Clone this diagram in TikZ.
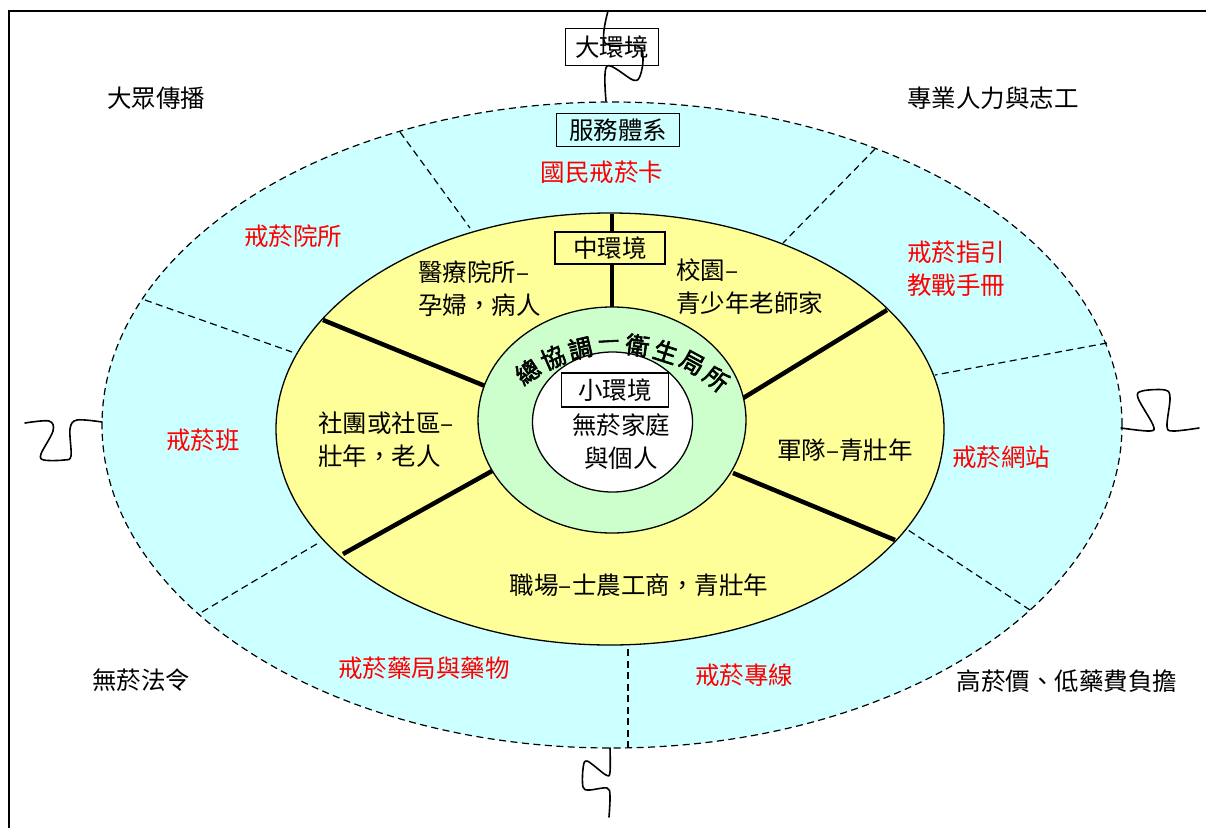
\documentclass[tikz,border=0pt]{standalone}
\usepackage{fontspec}
\newfontfamily\cjk{Noto Sans CJK TC}
\newfontfamily\cjkb[FakeBold=2.5]{Noto Sans CJK TC}
\definecolor{cyanfill}{HTML}{CCFFFF}
\definecolor{yelfill}{HTML}{FFFF99}
\definecolor{grnfill}{HTML}{CCFFCC}
\definecolor{redtxt}{HTML}{FF0000}
\begin{document}
\begin{tikzpicture}[x=1pt,y=-1pt,
  txt/.style={font=\cjk\fontsize{24.5}{33}\selectfont, inner sep=0pt, align=center},
  lefttxt/.style={txt, align=left, anchor=west},
  redlbl/.style={txt, text=redtxt},
  envbox/.style={txt, draw, line width=1.3pt},
  arcchar/.style={font=\cjkb\fontsize{24}{24}\selectfont, inner sep=0pt},
  dashdiv/.style={dash pattern=on 7pt off 4.5pt, line width=1.2pt},
  thickdiv/.style={line width=4.5pt},
  squig/.style={line width=1.6pt, line cap=round, line join=round}
]
\useasboundingbox (0,0) rectangle (1206,827);
\clip (0,0) rectangle (1206,827);
\fill[white] (0,0) rectangle (1206,827);
% frame
\coordinate (fbl) at (9,840);
\coordinate (ftl) at (9,11);
\coordinate (ftr) at (1220,11);
\draw[line width=2pt] (fbl) -- (ftl) -- (ftr);

% outer ring
\coordinate (oc) at (612,425);
\fill[cyanfill] (oc) ellipse [x radius=510pt, y radius=323pt];
% dashed dividers
\coordinate (d1o) at (400,132); \coordinate (d1i) at (470,228);
\coordinate (d2o) at (875,149); \coordinate (d2i) at (783,243);
\coordinate (d3o) at (1107,343); \coordinate (d3i) at (935,375);
\coordinate (d4o) at (1030,610); \coordinate (d4i) at (905,528);
\coordinate (d5o) at (628,748); \coordinate (d5i) at (628,645);
\coordinate (d6o) at (202,612); \coordinate (d6i) at (320,542);
\coordinate (d7o) at (145,300); \coordinate (d7i) at (292,352);
\foreach \k in {1,...,7} {\draw[dashdiv] (d\k o) -- (d\k i);}
\draw[dashdiv] (oc) ellipse [x radius=510pt, y radius=323pt];

% yellow ring
\coordinate (yc) at (610,429);
\filldraw[fill=yelfill, draw=black, line width=1.3pt] (yc) ellipse [x radius=334pt, y radius=216pt];
\coordinate (t1o) at (612,214); \coordinate (t1i) at (612,320);
\coordinate (t2o) at (323,320); \coordinate (t2i) at (490,388);
\coordinate (t3o) at (887,310); \coordinate (t3i) at (740,400);
\coordinate (t4o) at (895,540); \coordinate (t4i) at (733,473);
\coordinate (t5o) at (343,554); \coordinate (t5i) at (492,471);
\foreach \k in {1,...,5} {\draw[thickdiv] (t\k o) -- (t\k i);}

% green ring
\coordinate (gc) at (612,420);
\filldraw[fill=grnfill, draw=black, line width=1.3pt] (gc) ellipse [x radius=134pt, y radius=113pt];
% white core
\coordinate (wc) at (612.5,422);
\filldraw[fill=white, draw=black, line width=1.3pt] (wc) ellipse [x radius=80pt, y radius=70pt];

% arc text
\foreach \ch [count=\i from 0] in {總,協,調,—,衛,生,局,所} {
  \pgfmathsetmacro\ang{124.2-\i*10.41}
  \node[arcchar, rotate=\ang-90] (arc\i) at ({617+159*cos(\ang)}, {503-159*sin(\ang)}) {\ch};
}

% squiggles
\draw[squig] plot[smooth, tension=0.55] coordinates {(608,11) (605,43) (638,46) (643,59) (640,76) (633,80) (607,66) (606,101)};
\draw[squig] plot[smooth, tension=0.55] coordinates {(102,422) (77,420) (70,429) (71,456) (64,460) (44,460) (41,454) (53,431) (49,421) (25,423)};
\draw[squig] plot[smooth, tension=0.55] coordinates {(1121,428) (1150,431) (1153,425) (1138,398) (1142,391) (1165,390) (1170,398) (1167,426) (1173,431) (1199,428)};
\draw[squig] plot[smooth, tension=0.55] coordinates {(610,748) (610,772) (606,775) (587,761) (583,769) (583,787) (589,790) (607,788) (610,796) (609,817)};

% boxes
\node[envbox, minimum width=93pt, minimum height=37pt] (big) at (612,47) {大環境};
\node[envbox, fill=cyanfill, minimum width=123pt, minimum height=33pt] (svc) at (618,130) {服務體系};
\node[envbox, fill=yelfill, minimum width=110pt, minimum height=32pt] (mid) at (610,248) {中環境};
\node[envbox, fill=white, minimum width=107pt, minimum height=34pt] (small) at (615,390) {小環境};

% inner texts
\node[txt] (home) at (621,442) {無菸家庭\\與個人};
\node[lefttxt] (hosp) at (418,289) {醫療院所–\\孕婦，病人};
\node[lefttxt] (school) at (676,287) {校園–\\青少年老師家};
\node[lefttxt] (comm) at (318,440) {社團或社區–\\壯年，老人};
\node[txt] (army) at (845,450) {軍隊–青壯年};
\node[txt] (work) at (639,585) {職場–士農工商，青壯年};

% red labels
\node[redlbl] (card) at (602,172) {國民戒菸卡};
\node[redlbl] (clinic) at (293,236) {戒菸院所};
\node[redlbl] (guide) at (956,269) {戒菸指引\\教戰手冊};
\node[redlbl] (class) at (203,440) {戒菸班};
\node[redlbl] (web) at (1001,457) {戒菸網站};
\node[redlbl] (pharm) at (424,668) {戒菸藥局與藥物};
\node[redlbl] (line) at (744,675) {戒菸專線};

% outer labels
\node[txt] (media) at (156,98) {大眾傳播};
\node[txt] (staff) at (993,98) {專業人力與志工};
\node[txt] (law) at (141,680) {無菸法令};
\node[txt] (price) at (1067,681) {高菸價、低藥費負擔};
\end{tikzpicture}
\end{document}
